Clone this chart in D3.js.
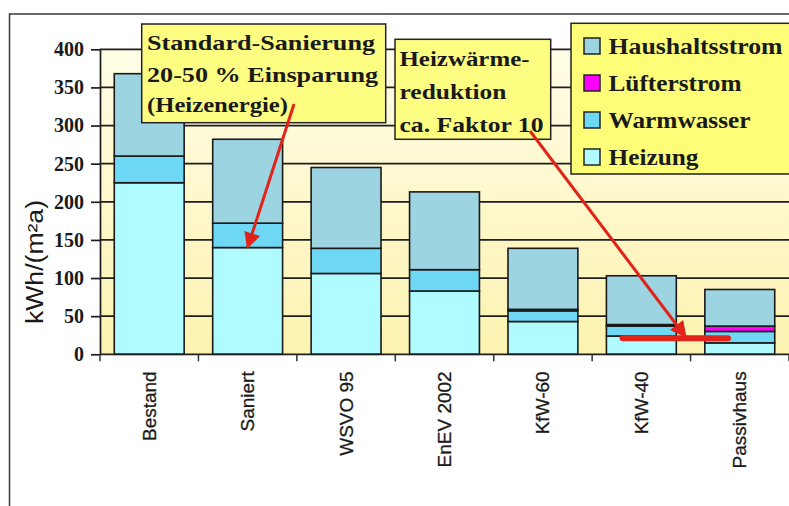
<!DOCTYPE html>
<html>
<head>
<meta charset="utf-8">
<script src="https://cdn.jsdelivr.net/npm/d3@7"></script>
<style>
  html, body { margin: 0; padding: 0; background: #ffffff; }
  svg { display: block; }
</style>
</head>
<body>
<div id="chart"></div>
<script>
// Energy demand per building standard, kWh/(m²a)
const categories = ["Bestand", "Saniert", "WSVO 95", "EnEV 2002", "KfW-60", "KfW-40", "Passivhaus"];
const heizung    = [225, 140, 106, 83, 43, 24, 15];
const warmwasser = [35, 32, 33, 28, 14, 13, 15];
const luefter    = [0, 0, 0, 0, 2, 2, 7];
const haushalt   = [108, 110, 106, 102, 80, 64, 48];

const seriesKeys   = ["heizung", "warmwasser", "luefter", "haushalt"];
const seriesNames  = { haushalt: "Haushaltsstrom", luefter: "Lüfterstrom", warmwasser: "Warmwasser", heizung: "Heizung" };
const legendOrder  = ["haushalt", "luefter", "warmwasser", "heizung"];
const yTicks       = [0, 50, 100, 150, 200, 250, 300, 350, 400];
const yTitle       = "kWh/(m²a)";

const colors = {
  haushalt:   "#9dd4e2",
  luefter:    "#ff00ff",
  warmwasser: "#6fd8f4",
  heizung:    "#b0fbff"
};

const W = 789, H = 506;
const plot = { left: 100, right: 789, top: 49.3, bottom: 354.3 };
const serif = "'Liberation Serif', 'Times New Roman', serif";
const sans  = "'Liberation Sans', Arial, sans-serif";
const ink = "#1a1a1a";
const red = "#e2231a";

const rows = categories.map((c, i) => ({
  cat: c, heizung: heizung[i], warmwasser: warmwasser[i], luefter: luefter[i], haushalt: haushalt[i]
}));

const svg = d3.select("#chart").append("svg")
  .attr("width", W).attr("height", H)
  .attr("viewBox", `0 0 ${W} ${H}`);

const defs = svg.append("defs");
const grad = defs.append("linearGradient").attr("id", "plotBg")
  .attr("x1", 0).attr("y1", 0).attr("x2", 0).attr("y2", 1);
grad.append("stop").attr("offset", "0%").attr("stop-color", "#fffde6");
grad.append("stop").attr("offset", "100%").attr("stop-color", "#fcf2b0");

defs.append("marker").attr("id", "arrowHead")
  .attr("viewBox", "0 0 10 10").attr("refX", 9).attr("refY", 5)
  .attr("markerWidth", 6.5).attr("markerHeight", 5.5)
  .attr("markerUnits", "strokeWidth").attr("orient", "auto")
  .append("path").attr("d", "M0,0 L10,5 L0,10 Z").attr("fill", red);

// scales
const x = d3.scaleBand().domain(categories).range([plot.left, plot.right]).padding(0);
const y = d3.scaleLinear().domain([0, 400]).range([plot.bottom, plot.top]);
const bw = x.bandwidth();
const barInset = bw * 0.145, barW = bw * 0.71;

// outer chart frame
svg.append("path")
  .attr("d", `M9.5,${H} V14 H${W}`)
  .attr("fill", "none").attr("stroke", "#3a3a3a").attr("stroke-width", 1.5);

// plot background
svg.append("rect")
  .attr("x", plot.left).attr("y", plot.top)
  .attr("width", plot.right - plot.left).attr("height", plot.bottom - plot.top)
  .attr("fill", "url(#plotBg)");

// horizontal gridlines
svg.append("g").selectAll("line").data(yTicks.filter(d => d > 0)).join("line")
  .attr("x1", plot.left).attr("x2", plot.right)
  .attr("y1", d => y(d)).attr("y2", d => y(d))
  .attr("stroke", "#1e1e1e").attr("stroke-width", 1.7);

// stacked bars
const stacked = d3.stack().keys(seriesKeys)(rows);
const barG = svg.append("g");
stacked.forEach(layer => {
  barG.append("g").selectAll("rect")
    .data(layer.filter(d => d[1] - d[0] > 0))
    .join("rect")
    .attr("x", d => x(d.data.cat) + barInset)
    .attr("width", barW)
    .attr("y", d => y(d[1]))
    .attr("height", d => y(d[0]) - y(d[1]))
    .attr("fill", colors[layer.key])
    .attr("stroke", "#1a1a1a").attr("stroke-width", 1.6);
});

// y axis
const yAxis = svg.append("g")
  .attr("transform", `translate(${plot.left},0)`)
  .call(d3.axisLeft(y).tickValues(yTicks).tickSize(9).tickSizeOuter(0).tickPadding(7));
yAxis.select(".domain").attr("stroke", "#1e1e1e").attr("stroke-width", 1.7);
yAxis.selectAll(".tick line").attr("stroke", "#1e1e1e").attr("stroke-width", 1.7);
yAxis.selectAll(".tick text")
  .attr("font-family", serif).attr("font-weight", "bold")
  .attr("font-size", 20).attr("fill", ink);

// x axis line and category boundary ticks
svg.append("line")
  .attr("x1", plot.left).attr("x2", plot.right)
  .attr("y1", plot.bottom).attr("y2", plot.bottom)
  .attr("stroke", "#1e1e1e").attr("stroke-width", 1.7);
const boundaries = categories.map(c => x(c)).concat([x(categories[categories.length - 1]) + bw]);
svg.append("g").selectAll("line").data(boundaries).join("line")
  .attr("x1", d => d).attr("x2", d => d)
  .attr("y1", plot.bottom).attr("y2", plot.bottom + 7)
  .attr("stroke", "#333").attr("stroke-width", 1.5);

// category labels, rotated
svg.append("g").selectAll("text").data(categories).join("text")
  .attr("transform", d => `translate(${x(d) + bw / 2},${plot.bottom + 17}) rotate(-90)`)
  .attr("text-anchor", "end").attr("dominant-baseline", "central")
  .attr("font-family", sans).attr("font-size", 19).attr("fill", ink)
  .attr("stroke", ink).attr("stroke-width", 0.3)
  .text(d => d);

// y axis title
svg.append("text")
  .attr("transform", "translate(35,262) rotate(-90)")
  .attr("text-anchor", "middle").attr("dominant-baseline", "central")
  .attr("font-family", sans).attr("font-size", 23).attr("fill", ink)
  .attr("textLength", 124).attr("lengthAdjust", "spacingAndGlyphs")
  .text(yTitle);

// red level marker at the passive-house heating level
svg.append("line")
  .attr("x1", x("KfW-40") + bw * 0.31).attr("x2", x("Passivhaus") + bw * 0.38)
  .attr("y1", y(21)).attr("y2", y(21))
  .attr("stroke", red).attr("stroke-width", 6).attr("stroke-linecap", "round");

// annotation boxes
function noteBox(bx, by, bwid, bht, lines, tx, baselines, widths, size) {
  const g = svg.append("g");
  g.append("rect").attr("x", bx).attr("y", by).attr("width", bwid).attr("height", bht)
    .attr("fill", "#fdfd82").attr("stroke", "#222").attr("stroke-width", 1.5);
  lines.forEach((t, i) => {
    g.append("text").attr("x", tx).attr("y", baselines[i])
      .attr("font-family", serif).attr("font-weight", "bold").attr("font-size", size)
      .attr("fill", ink)
      .attr("textLength", widths[i]).attr("lengthAdjust", "spacingAndGlyphs")
      .text(t);
  });
  return g;
}

noteBox(141.7, 24, 244, 98.7,
  ["Standard-Sanierung", "20-50 % Einsparung", "(Heizenergie)"],
  147, [50, 81.5, 112], [228, 231, 141], 22);

noteBox(395, 39.3, 155.7, 100,
  ["Heizwärme-", "reduktion", "ca. Faktor 10"],
  399.5, [66, 99, 132], [130, 107, 144], 22);

// legend
const leg = svg.append("g");
leg.append("rect").attr("x", 571).attr("y", 23.3).attr("width", 230).attr("height", 150.7)
  .attr("fill", "#fdfd78").attr("stroke", "#222").attr("stroke-width", 1.5);
const legWidths = { haushalt: 174, luefter: 133, warmwasser: 142, heizung: 90 };
legendOrder.forEach((k, i) => {
  const cy = 46 + i * 37;
  leg.append("rect").attr("x", 584).attr("y", cy - 8).attr("width", 16).attr("height", 16)
    .attr("fill", colors[k]).attr("stroke", "#222").attr("stroke-width", 1.5);
  leg.append("text").attr("x", 608.5).attr("y", cy + 7.5)
    .attr("font-family", serif).attr("font-weight", "bold").attr("font-size", 23)
    .attr("fill", ink)
    .attr("textLength", legWidths[k]).attr("lengthAdjust", "spacingAndGlyphs")
    .text(seriesNames[k]);
});

// red arrows from the notes to the bars
svg.append("line")
  .attr("x1", 294).attr("y1", 104)
  .attr("x2", x("Saniert") + bw / 2).attr("y2", y(140))
  .attr("stroke", red).attr("stroke-width", 3).attr("marker-end", "url(#arrowHead)");

svg.append("line")
  .attr("x1", 530).attr("y1", 131)
  .attr("x2", x("Passivhaus") - 5).attr("y2", y(23))
  .attr("stroke", red).attr("stroke-width", 3).attr("marker-end", "url(#arrowHead)");
</script>
</body>
</html>
